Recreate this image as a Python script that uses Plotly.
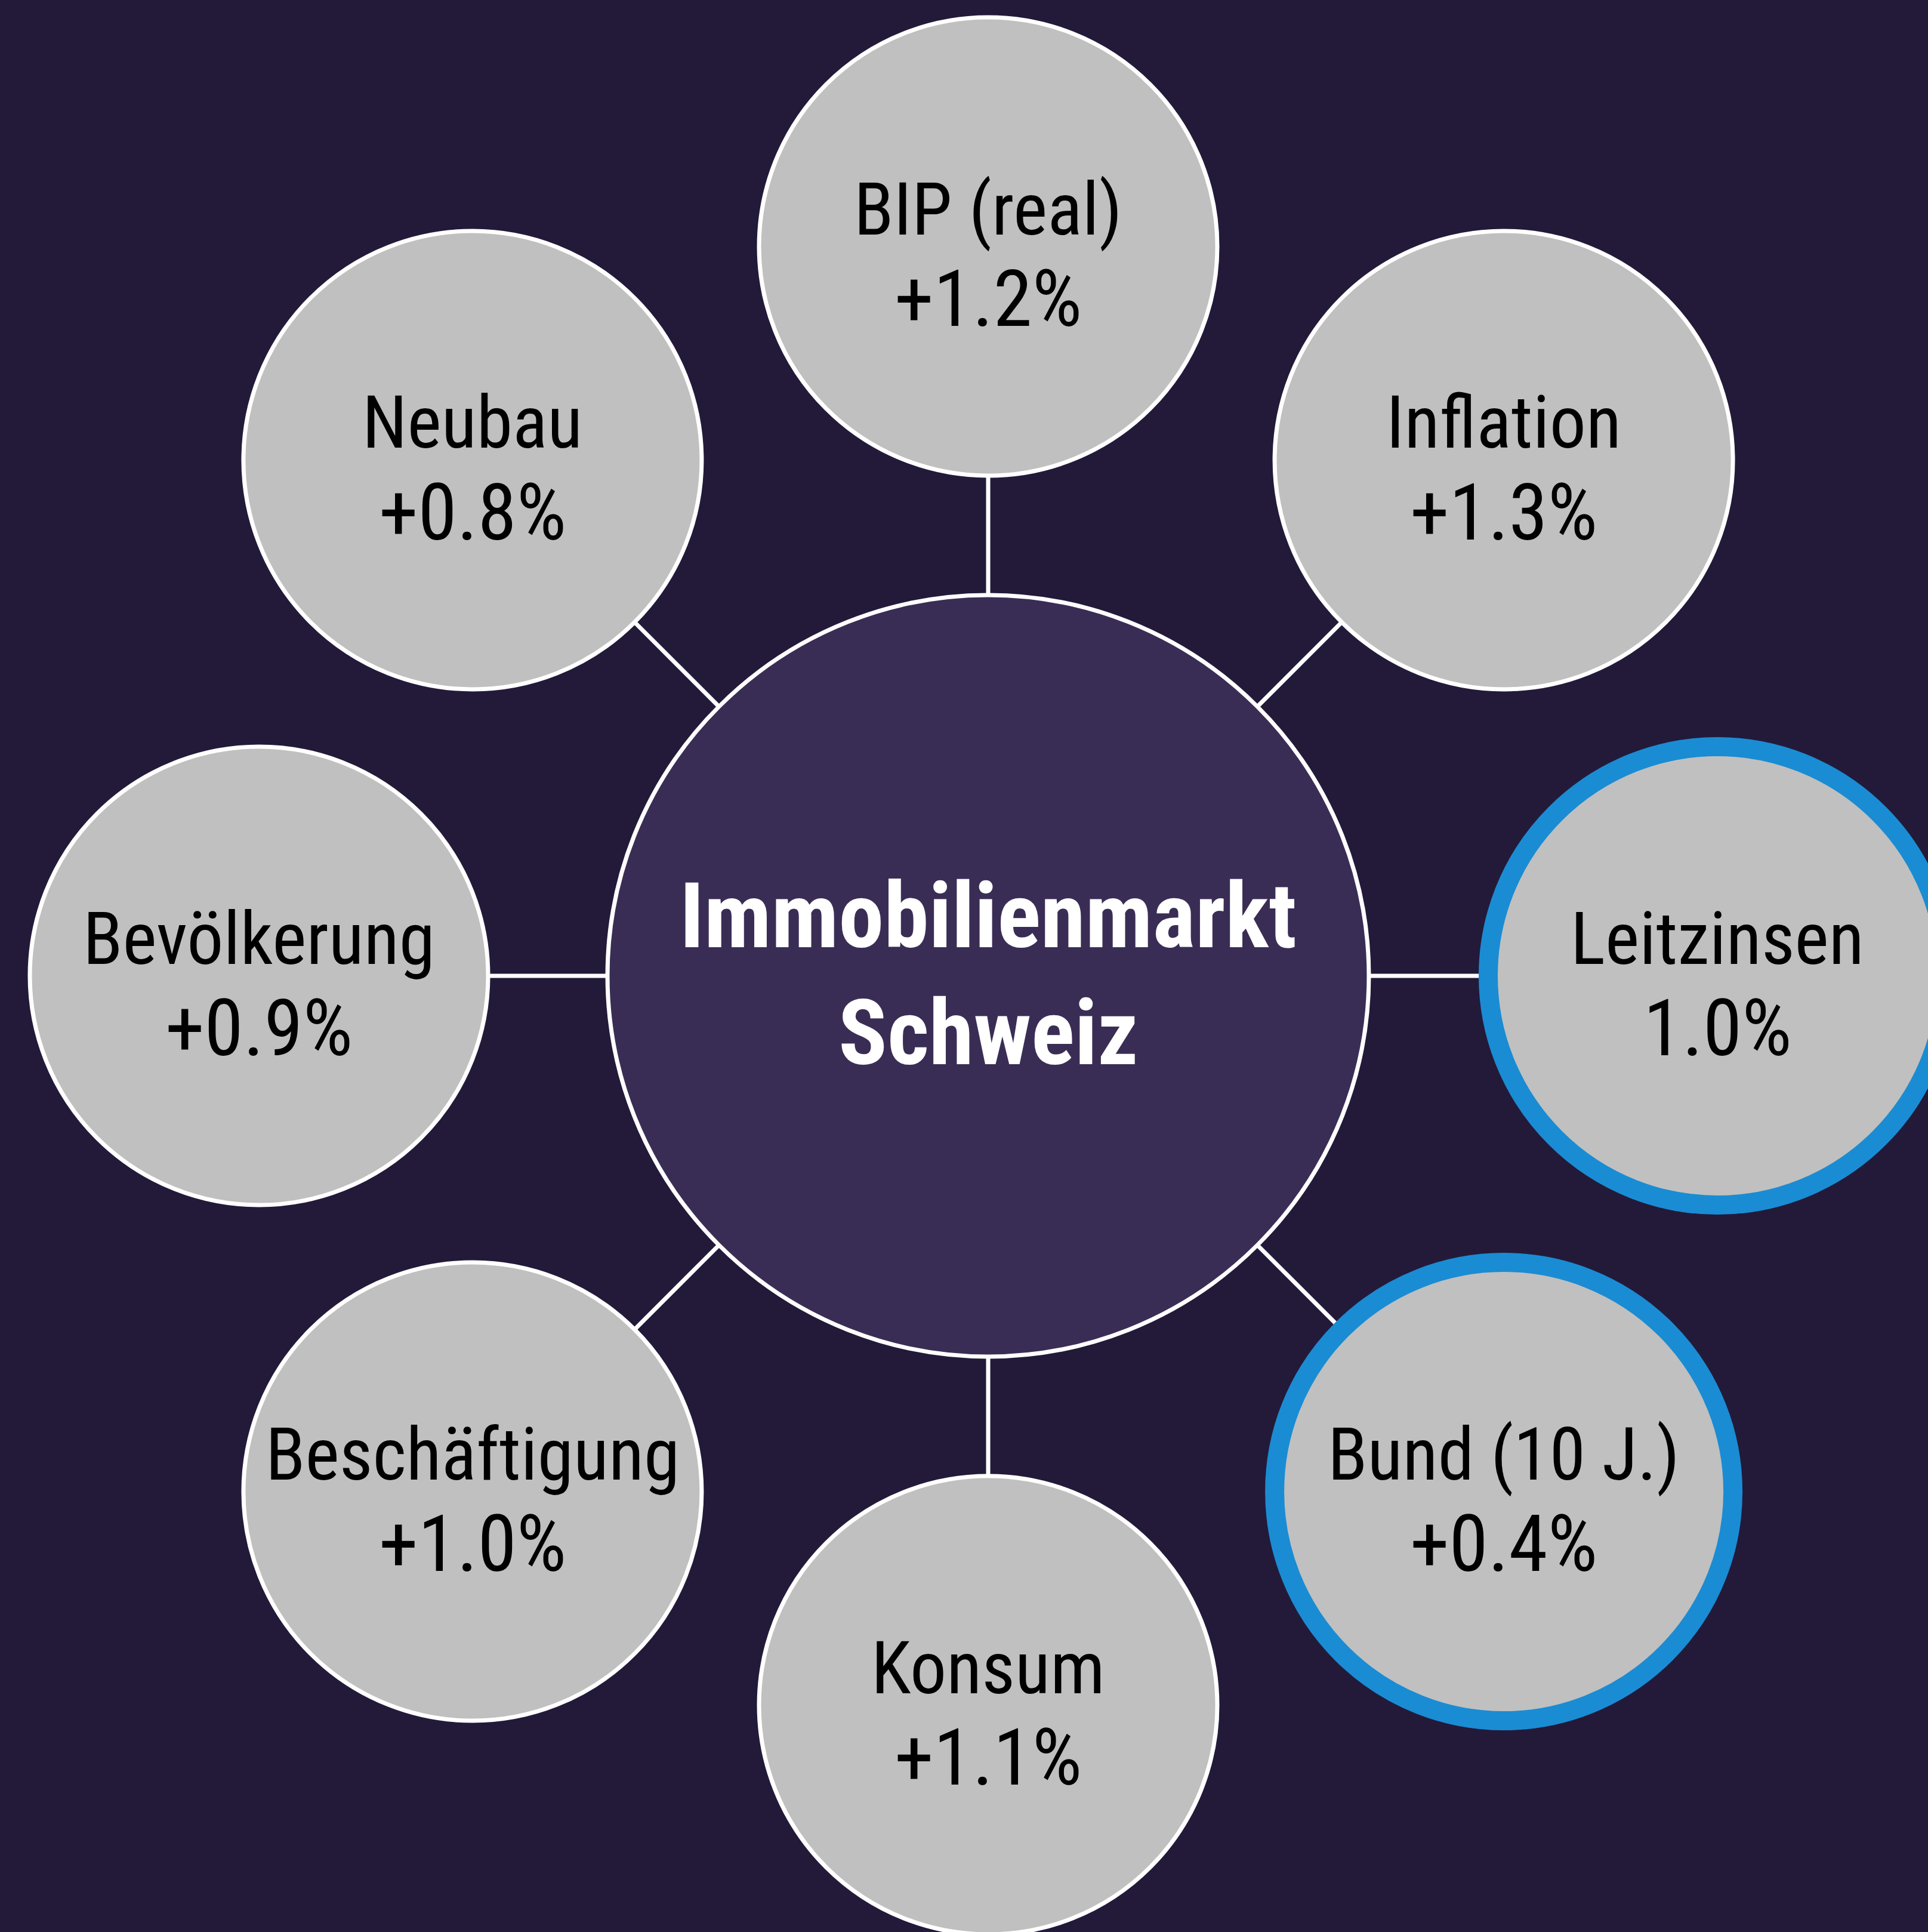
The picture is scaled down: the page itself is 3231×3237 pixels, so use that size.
import math
import plotly.graph_objects as go

# ---------------- data ----------------
labels = ["BIP (real)", "Inflation", "Leitzinsen", "Bund (10 J.)",
          "Konsum", "Beschäftigung", "Bevölkerung", "Neubau"]
values = [1.2, 1.3, 1.0, 0.4, 1.1, 1.0, 0.9, 0.8]
value_labels = ["+1.2%", "+1.3%", "1.0%", "+0.4%", "+1.1%", "+1.0%", "+0.9%", "+0.8%"]
highlighted = [False, False, True, True, False, False, False, False]
center_lines = ["Immobilienmarkt", "Schweiz"]

# ---------------- styling / layout ----------------
W, H = 3231, 3237
BG = "#231a3a"
CENTER_FILL = "#3a2d55"
NODE_FILL = "#c0c0c0"
BLUE = "#1a8cd3"
WHITE = "#ffffff"
FONT = "Roboto Condensed, DejaVu Sans Condensed, sans-serif"

cx, cy = 1656, 1635
R_center = 638
R_orbit = 1222
R_node = 384

fig = go.Figure()

shapes = []
annotations = []

n = len(labels)
node_pos = []
for i in range(n):
    th = math.radians(360.0 * i / n)
    nx = cx + R_orbit * math.sin(th)
    ny = cy - R_orbit * math.cos(th)
    node_pos.append((nx, ny))

# connectors (drawn first, beneath circles)
for (nx, ny) in node_pos:
    shapes.append(dict(type="line", xref="x", yref="y", x0=cx, y0=cy, x1=nx, y1=ny,
                       line=dict(color=WHITE, width=7), layer="above"))

# center circle
shapes.append(dict(type="circle", xref="x", yref="y",
                   x0=cx - R_center, x1=cx + R_center, y0=cy - R_center, y1=cy + R_center,
                   fillcolor=CENTER_FILL, line=dict(color=WHITE, width=7), layer="above"))

# outer nodes
for i, (nx, ny) in enumerate(node_pos):
    hl = highlighted[i]
    shapes.append(dict(type="circle", xref="x", yref="y",
                       x0=nx - R_node, x1=nx + R_node, y0=ny - R_node, y1=ny + R_node,
                       fillcolor=NODE_FILL,
                       line=dict(color=BLUE if hl else WHITE, width=32 if hl else 7),
                       layer="above"))
    annotations.append(dict(x=nx, y=ny - 62, xref="x", yref="y", text=labels[i],
                            showarrow=False, xanchor="center", yanchor="middle",
                            font=dict(family=FONT, size=122, color="#000000")))
    annotations.append(dict(x=nx, y=ny + 88, xref="x", yref="y", text=value_labels[i],
                            showarrow=False, xanchor="center", yanchor="middle",
                            font=dict(family=FONT, size=132, color="#000000")))

# center text
annotations.append(dict(x=cx, y=cy - 100, xref="x", yref="y", text="<b>%s</b>" % center_lines[0],
                        showarrow=False, xanchor="center", yanchor="middle",
                        font=dict(family=FONT, size=152, color=WHITE)))
annotations.append(dict(x=cx, y=cy + 96, xref="x", yref="y", text="<b>%s</b>" % center_lines[1],
                        showarrow=False, xanchor="center", yanchor="middle",
                        font=dict(family=FONT, size=152, color=WHITE)))

# invisible trace carrying the node data (hover)
fig.add_trace(go.Scatter(
    x=[p[0] for p in node_pos], y=[p[1] for p in node_pos],
    mode="markers", marker=dict(size=1, opacity=0),
    customdata=values, text=labels,
    hovertemplate="%{text}: %{customdata}%<extra></extra>", showlegend=False))

fig.update_layout(
    width=W, height=H, autosize=False,
    margin=dict(l=0, r=0, t=0, b=0, pad=0),
    paper_bgcolor=BG, plot_bgcolor=BG,
    shapes=shapes, annotations=annotations,
    xaxis=dict(range=[0, W], visible=False, fixedrange=True),
    yaxis=dict(range=[H, 0], visible=False, fixedrange=True),
    showlegend=False,
)

fig.write_html("out.html", config={"displayModeBar": False},
               post_script="document.body.style.margin='0';")
